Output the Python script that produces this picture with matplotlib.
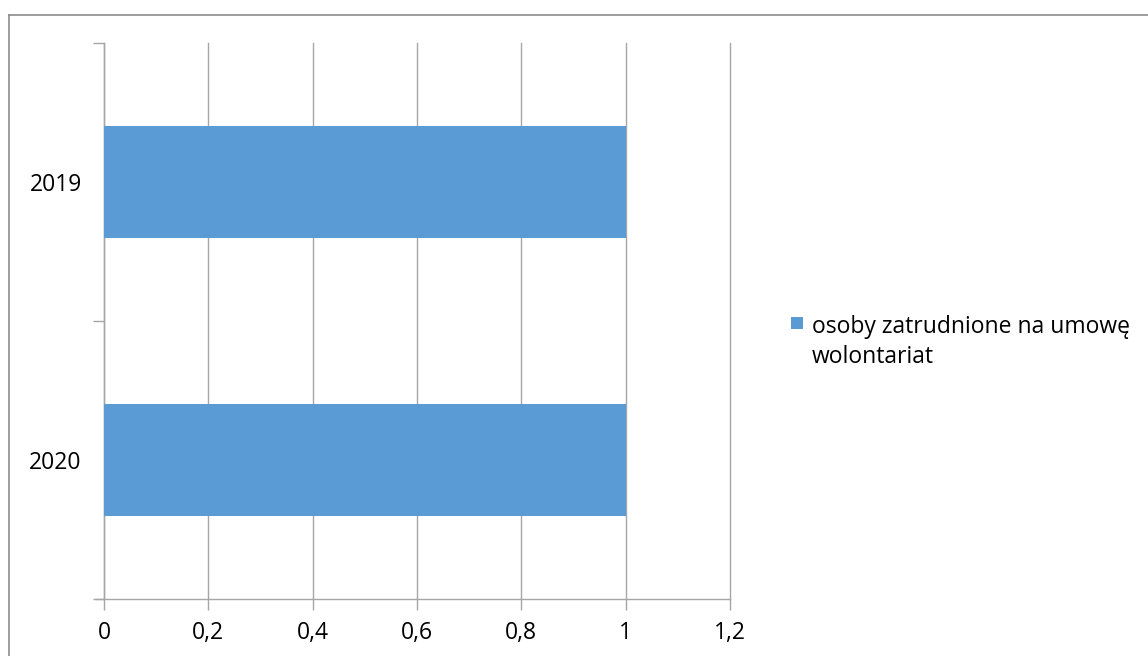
import matplotlib
matplotlib.use("Agg")
import matplotlib.pyplot as plt
from matplotlib.lines import Line2D
from matplotlib.patches import Rectangle

categories = ["2020", "2019"]
values = [1, 1]
series_name = "osoby zatrudnione na umowę\nwolontariat"
xticks = [0, 0.2, 0.4, 0.6, 0.8, 1.0, 1.2]
xtick_labels = ["0", "0,2", "0,4", "0,6", "0,8", "1", "1,2"]

plt.rcParams['font.family'] = ['Open Sans', 'DejaVu Sans']
FS = 16.5
W, H = 1148, 656
fig = plt.figure(figsize=(W / 100, H / 100), dpi=100)

ax = fig.add_axes([104 / W, (H - 599) / H, 626 / W, 556 / H])
bar_color = "#5B9BD5"
grid_color = "#A6A6A6"
pos = list(range(len(categories)))
ax.barh(pos, values, height=0.40, color=bar_color, zorder=3)
ax.set_xlim(0, 1.2)
ax.set_ylim(-0.5, len(categories) - 0.5)

ax.set_xticks(xticks)
ax.set_xticklabels(xtick_labels, fontsize=FS, color="#000000")
ax.tick_params(axis='x', length=8, width=1, color=grid_color, pad=8)

ax.set_yticks([p - 0.5 for p in pos] + [pos[-1] + 0.5])
ax.set_yticklabels([])
ax.tick_params(axis='y', which='major', length=8, width=1, color=grid_color)
ax.set_yticks(pos, minor=True)
ax.set_yticklabels(categories, minor=True, fontsize=FS)
ax.tick_params(axis='y', which='minor', length=0, pad=16)

ax.grid(axis='x', color=grid_color, linewidth=1, zorder=0)
for gl in ax.get_xgridlines():
    gl.set_clip_on(False)
for s in ['top', 'right']:
    ax.spines[s].set_visible(False)
for s in ['left', 'bottom']:
    ax.spines[s].set_color(grid_color)
    ax.spines[s].set_linewidth(1)

# extend bottom axis line to the left like the reference
fig.add_artist(Line2D([96 / W, 104 / W], [(H - 599) / H] * 2, color=grid_color, lw=1))

# outer chart frame
frame_color = "#8C8C8C"
fig.add_artist(Line2D([8.5 / W, 1.0], [(H - 14.5) / H] * 2, color=frame_color, lw=1.2))
fig.add_artist(Line2D([8.5 / W] * 2, [0, (H - 14.5) / H], color=frame_color, lw=1.2))

# legend (marker aligned with first line, as in the reference)
fig.add_artist(Rectangle((791 / W, (H - 329) / H), 12 / W, 12 / H,
                         facecolor=bar_color, edgecolor='none'))
fig.text(812 / W, (H - 315) / H, series_name, fontsize=FS, va='top', ha='left',
         linespacing=1.32)

fig.savefig("out.png", dpi=100)
